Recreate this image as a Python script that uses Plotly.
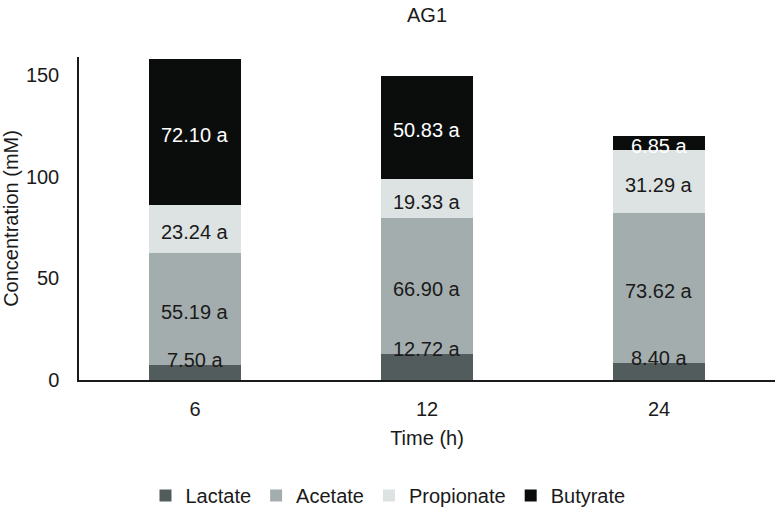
import plotly.graph_objects as go

times = ["6", "12", "24"]
lactate = [7.50, 12.72, 8.40]
acetate = [55.19, 66.90, 73.62]
propionate = [23.24, 19.33, 31.29]
butyrate = [72.10, 50.83, 6.85]
letters = ["a", "a", "a"]

series = [
    ("Lactate", lactate, "#535c5c", "#1a1a1a"),
    ("Acetate", acetate, "#a4adad", "#1a1a1a"),
    ("Propionate", propionate, "#dde2e2", "#1a1a1a"),
    ("Butyrate", butyrate, "#0b0d0d", "#ffffff"),
]

FONT = "Liberation Sans, Arial, sans-serif"
fig = go.Figure()
annotations = []
base = [0.0] * len(times)
for idx, (name, vals, color, tcolor) in enumerate(series):
    fig.add_trace(go.Bar(
        x=times, y=vals, name=name, marker=dict(color=color, line=dict(width=0)),
    ))
    for i, t in enumerate(times):
        label = f"{vals[i]:.2f} {letters[i]}"
        if idx == 0:
            annotations.append(dict(x=i, y=base[i] + vals[i], xref="x", yref="y",
                                    text=label, showarrow=False, yanchor="bottom",
                                    yshift=-8,
                                    font=dict(family=FONT, size=20, color=tcolor)))
        else:
            annotations.append(dict(x=i, y=base[i] + vals[i] / 2, xref="x", yref="y",
                                    text=label, showarrow=False, yanchor="middle",
                                    yshift=-3,
                                    font=dict(family=FONT, size=20, color=tcolor)))
        base[i] += vals[i]

fig.update_layout(
    barmode="stack",
    bargap=0.6,
    width=776, height=511,
    margin=dict(l=79, r=1, t=57, b=131),
    paper_bgcolor="white", plot_bgcolor="white",
    font=dict(family=FONT, size=20, color="#1a1a1a"),
    title=dict(text="AG1", x=0.5, xref="paper", y=1 - 15 / 511, yref="container",
               yanchor="middle", font=dict(family=FONT, size=20, color="#1a1a1a")),
    legend=dict(orientation="h", xref="container", x=0.5, xanchor="center",
                yref="container", y=1 - 476 / 511, yanchor="top", traceorder="normal",
                font=dict(family=FONT, size=20, color="#1a1a1a"),
                itemwidth=30),
    annotations=annotations,
    showlegend=True,
)
fig.update_xaxes(
    type="category", range=[-0.5, 2.5], showline=True, linecolor="#1a1a1a", linewidth=1.5,
    showgrid=False, ticks="", ticklabelstandoff=10,
    title=dict(text="Time (h)", standoff=12, font=dict(family=FONT, size=20)),
    tickfont=dict(family=FONT, size=20),
)
fig.update_yaxes(
    range=[0, 159], tickvals=[0, 50, 100, 150], showline=True, linecolor="#1a1a1a",
    linewidth=1.5, showgrid=False, zeroline=False, ticks="", ticklabelstandoff=14,
    title=dict(text="Concentration (mM)", standoff=6, font=dict(family=FONT, size=20)),
    tickfont=dict(family=FONT, size=20),
)

fig.write_html("out.html", config={"displayModeBar": False},
               post_script="document.body.style.margin='0';")
